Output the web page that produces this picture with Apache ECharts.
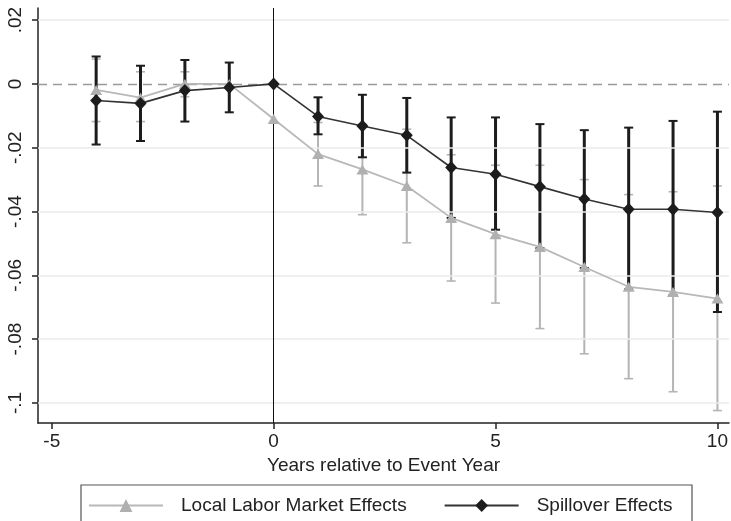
<!DOCTYPE html>
<html>
<head>
<meta charset="utf-8">
<script src="https://cdn.jsdelivr.net/npm/echarts/dist/echarts.min.js"></script>
<style>
  html, body { margin: 0; padding: 0; background: #fff; }
  #chart { width: 731px; height: 521px; }
</style>
</head>
<body>
<div id="chart"></div>
<script>
// years relative to event
var years = [-4, -3, -2, -1, 0, 1, 2, 3, 4, 5, 6, 7, 8, 9, 10];

// Local labor market effects (grey triangles) + 95% CI
var localEff = [-0.0019, -0.0043, 0, 0, -0.011, -0.022, -0.0268, -0.032, -0.042, -0.0471, -0.0511, -0.0574, -0.0636, -0.0652, -0.0673];
var localLo  = [-0.0118, -0.0118, -0.004, null, null, -0.032, -0.041, -0.0498, -0.0618, -0.0687, -0.0767, -0.0846, -0.0924, -0.0965, -0.1024];
var localHi  = [0.0078, 0.0038, 0.0038, null, null, -0.0121, -0.0126, -0.0142, -0.0222, -0.0255, -0.0255, -0.030, -0.0347, -0.0338, -0.032];

// Spillover effects (black diamonds) + 95% CI
var spillEff = [-0.0052, -0.0061, -0.0021, -0.0011, 0, -0.0102, -0.0132, -0.0161, -0.0262, -0.0283, -0.0322, -0.0361, -0.0393, -0.0393, -0.0403];
var spillLo  = [-0.019, -0.0179, -0.0118, -0.0089, null, -0.0158, -0.023, -0.0278, -0.042, -0.0457, -0.0515, -0.0577, -0.0644, -0.0662, -0.0715];
var spillHi  = [0.0086, 0.0057, 0.0075, 0.0067, null, -0.0042, -0.0034, -0.0044, -0.0105, -0.0105, -0.0126, -0.0145, -0.0137, -0.0116, -0.0087];

var xTicks = [-5, 0, 5, 10];
var yTicks = [-0.1, -0.08, -0.06, -0.04, -0.02, 0, 0.02];

var FONT = 'Liberation Sans, Arial, sans-serif';

function pairs(vals) {
  return years.map(function (x, i) { return [x, vals[i]]; });
}
function bars(lo, hi) {
  var out = [];
  years.forEach(function (x, i) {
    if (lo[i] != null && hi[i] != null) out.push([x, lo[i], hi[i]]);
  });
  return out;
}
// stata style: ".02", "-.1"
function stataNum(v) {
  if (Math.abs(v) < 1e-9) return '0';
  return String(+v.toFixed(3)).replace('0.', '.');
}

function errBar(color, lw, capW, capLw) {
  return function (params, api) {
    var x = api.value(0);
    var p1 = api.coord([x, api.value(2)]);
    var p2 = api.coord([x, api.value(1)]);
    var cs = { stroke: color, lineWidth: capLw };
    return {
      type: 'group',
      children: [
        { type: 'line', shape: { x1: p1[0], y1: p1[1], x2: p2[0], y2: p2[1] }, style: { stroke: color, lineWidth: lw } },
        { type: 'line', shape: { x1: p1[0] - capW / 2, y1: p1[1], x2: p1[0] + capW / 2, y2: p1[1] }, style: cs },
        { type: 'line', shape: { x1: p2[0] - capW / 2, y1: p2[1], x2: p2[0] + capW / 2, y2: p2[1] }, style: cs }
      ]
    };
  };
}

var myChart = echarts.init(document.getElementById('chart'), null, { renderer: 'canvas' });

var option = {
  backgroundColor: '#fff',
  animation: false,
  textStyle: { fontFamily: FONT },
  grid: { left: 38, right: 0, top: 8, bottom: 98, containLabel: false },
  xAxis: {
    type: 'value',
    min: -5.31, max: 10.26,
    name: 'Years relative to Event Year',
    nameLocation: 'middle',
    nameGap: 30,
    nameTextStyle: { fontSize: 19, color: '#222', fontFamily: FONT },
    axisLine: { onZero: false, lineStyle: { color: '#222', width: 1.5 } },
    axisTick: { show: true, length: 6, customValues: xTicks, lineStyle: { color: '#222', width: 1.5 } },
    axisLabel: { customValues: xTicks, fontSize: 19, color: '#222', margin: 9, fontFamily: FONT },
    splitLine: { show: false }
  },
  yAxis: {
    type: 'value',
    min: -0.1063, max: 0.0238,
    axisLine: { show: true, onZero: false, lineStyle: { color: '#222', width: 1.5 } },
    axisTick: { show: true, length: 6, customValues: yTicks, lineStyle: { color: '#222', width: 1.5 } },
    axisLabel: {
      customValues: yTicks, rotate: 90, fontSize: 19, color: '#222', margin: 13, fontFamily: FONT,
      formatter: stataNum
    },
    splitLine: { show: false }
  },
  legend: {
    data: ['Local Labor Market Effects', 'Spillover Effects'],
    left: 83, top: 491,
    itemWidth: 74, itemHeight: 16, itemGap: 37,
    textStyle: { fontSize: 19, color: '#222', fontFamily: FONT, padding: [0, 0, 0, 13] }
  },
  graphic: [
    { type: 'rect', shape: { x: 81, y: 485, width: 611, height: 60 }, style: { fill: 'none', stroke: '#555', lineWidth: 1.2 }, z: 100 }
  ],
  series: [
    {
      name: 'grid',
      type: 'line',
      data: [],
      z: 1,
      markLine: {
        silent: true, symbol: 'none', label: { show: false },
        lineStyle: { color: '#ebebeb', width: 1.5, type: 'solid' },
        data: yTicks.filter(function (v) { return v !== 0; }).map(function (v) { return { yAxis: v }; })
      }
    },
    {
      name: 'ref',
      type: 'line',
      data: [],
      z: 2,
      markLine: {
        silent: true, symbol: 'none', label: { show: false },
        data: [
          { yAxis: 0, lineStyle: { color: '#9a9a9a', width: 1.3, type: [9, 6] } },
          { xAxis: 0, lineStyle: { color: '#111', width: 1, type: 'solid' } }
        ]
      }
    },
    {
      name: 'localCI',
      type: 'custom',
      z: 3,
      renderItem: errBar('#b4b4b4', 2, 9, 1.6),
      encode: { x: 0, y: [1, 2] },
      data: bars(localLo, localHi)
    },
    {
      name: 'spillCI',
      type: 'custom',
      z: 4,
      renderItem: errBar('#1c1c1c', 3, 9, 2),
      encode: { x: 0, y: [1, 2] },
      data: bars(spillLo, spillHi)
    },
    {
      name: 'Local Labor Market Effects',
      type: 'line',
      z: 5,
      data: pairs(localEff),
      symbol: 'triangle',
      symbolSize: [12, 10],
      showAllSymbol: true,
      lineStyle: { color: '#b8b8b8', width: 1.8 },
      itemStyle: { color: '#b0b0b0' }
    },
    {
      name: 'Spillover Effects',
      type: 'line',
      z: 6,
      data: pairs(spillEff),
      symbol: 'diamond',
      symbolSize: [12, 13],
      showAllSymbol: true,
      lineStyle: { color: '#333', width: 1.6 },
      itemStyle: { color: '#1c1c1c' }
    }
  ]
};

myChart.setOption(option);
</script>
</body>
</html>
